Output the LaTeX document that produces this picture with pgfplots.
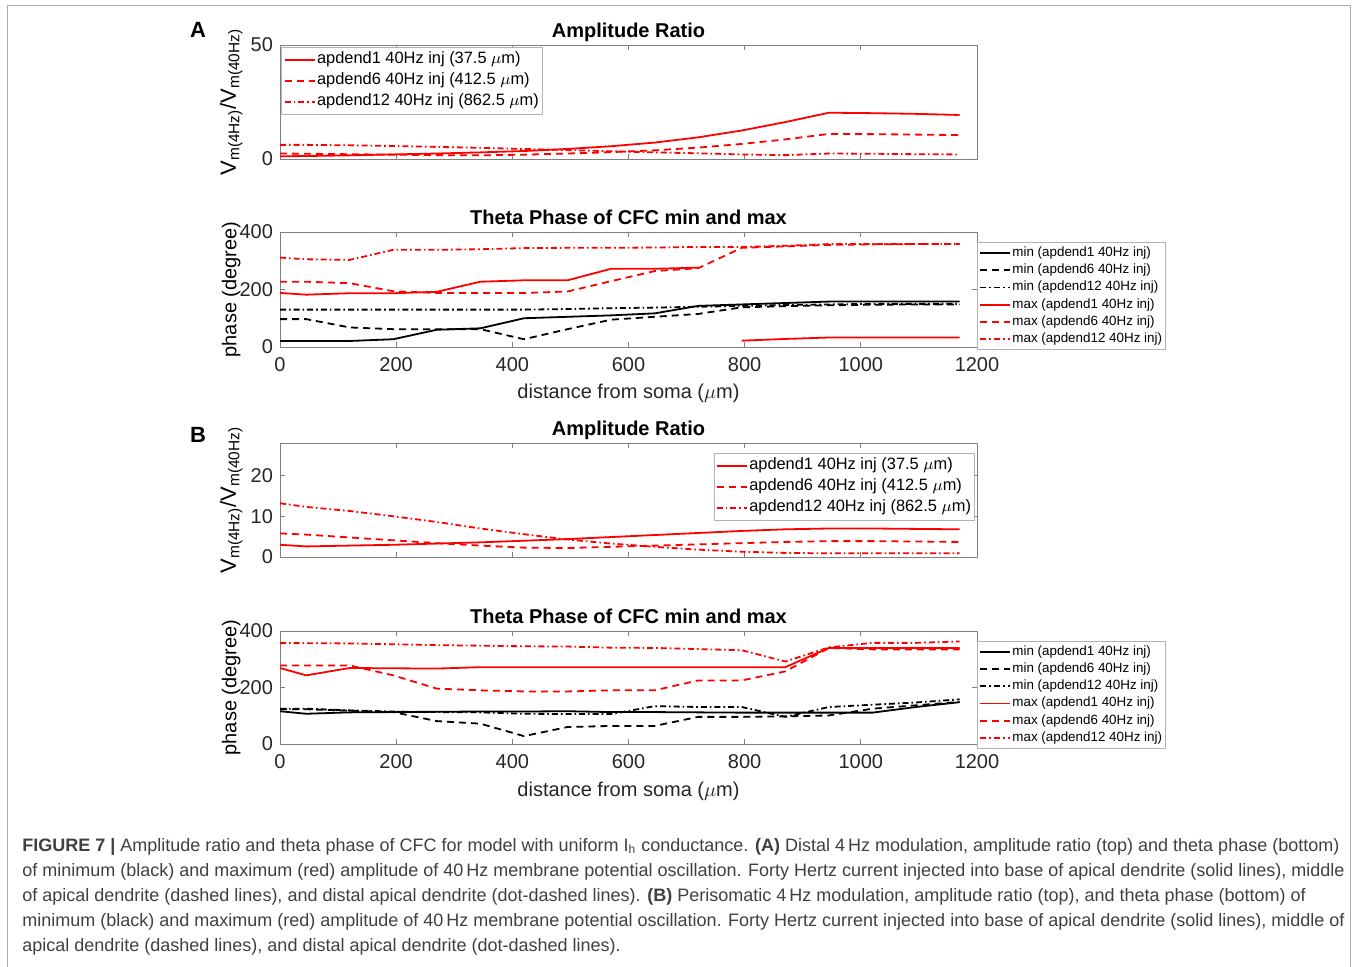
\documentclass[border=0pt]{standalone}
\usepackage{pgfplots}
\pgfplotsset{compat=1.18}
\usepackage{fontspec}
\setmainfont{Liberation Sans}

\definecolor{axgray}{gray}{0.5}
\definecolor{txt}{gray}{0.15}
\definecolor{capgray}{gray}{0.25}

\pgfplotsset{
 myaxis/.style={
   scale only axis, width=348.5pt, xmin=0, xmax=1200,
   xtick={0,200,...,1200},
   axis line style={axgray, line width=0.4pt},
   every tick/.style={axgray, line width=0.4pt},
   major tick length=2.5pt,
   tick label style={font=\fontsize{10}{12}\selectfont, text=txt},
   xticklabel style={yshift=-1.8pt},
   /pgf/number format/assume math mode=true,
   /pgf/number format/1000 sep={},
   every axis title shift=0pt,
   title style={font=\bfseries\fontsize{10}{12}\selectfont, at={(0.5,1)}, anchor=base, yshift=3.6pt},
   label style={font=\fontsize{10}{12}\selectfont, text=txt},
   every axis y label/.style={at={(axis description cs:-0.07,0.5)}, rotate=90, anchor=center},
   legend cell align=left,
   unbounded coords=jump,
   legend image code/.code={\draw[##1] (0pt,0pt) -- (15pt,0pt);},
 },
 biglegend/.style={legend style={font=\fontsize{8.2}{9}\selectfont, draw=gray!60, fill=white, inner sep=1pt,
     nodes={inner sep=0.75pt, text height=6.5pt, text depth=2.5pt}, row sep=0pt}},
 smalllegend/.style={legend style={font=\fontsize{6.7}{7.5}\selectfont, draw=gray!60, fill=white, inner sep=1pt,
     nodes={inner sep=0.6pt, text height=5.4pt, text depth=2pt}, row sep=0pt, at={(1.0,0.913)}, anchor=north west}},
 s1/.style={red, solid, line width=0.9pt},
 s6/.style={red, line width=0.9pt, dash pattern=on 3.5pt off 2.5pt},
 s12/.style={red, line width=0.9pt, dash pattern=on 3pt off 1.5pt on 0.8pt off 1.5pt},
 k1/.style={black, solid, line width=0.9pt},
 k6/.style={black, line width=0.9pt, dash pattern=on 3.5pt off 2.5pt},
 k12/.style={black, line width=0.9pt, dash pattern=on 3pt off 1.5pt on 0.8pt off 1.5pt},
}

\begin{document}
\begin{tikzpicture}
\useasboundingbox (0,0) rectangle (678.5pt,483pt);
\draw[gray!65, line width=0.5pt] (3.5pt,-2pt) -- (3.5pt,480pt) -- (675pt,480pt) -- (675pt,-2pt);

\node[font=\bfseries\fontsize{11}{13}\selectfont, anchor=center] at (99pt,468pt) {A};
\node[font=\bfseries\fontsize{11}{13}\selectfont, anchor=center] at (99pt,265.5pt) {B};

% ---------------- A top ----------------
\begin{axis}[myaxis, biglegend, at={(140pt,403.5pt)}, anchor=south west, height=57pt,
  ymin=0, ymax=50, ytick={0,50}, xticklabels={},
  title={Amplitude Ratio},
  ylabel={V\textsubscript{m(4Hz)}/V\textsubscript{m(40Hz)}},
  ylabel style={font=\fontsize{11}{13}\selectfont},
  legend style={at={(0.002,0.985)}, anchor=north west}]
\addplot[s1] coordinates {(0,1.2)(45,1.3)(120,1.6)(195,2.0)(270,2.4)(345,2.9)(420,3.5)(495,4.4)(570,5.6)(645,7.2)(720,9.5)(795,12.5)(870,16.2)(945,20.3)(1020,20.1)(1095,19.8)(1170,19.3)};
\addplot[s6] coordinates {(0,2.4)(45,2.3)(120,2.1)(195,1.9)(270,1.7)(345,1.6)(420,1.9)(495,2.4)(570,3.0)(645,3.8)(720,5.0)(795,6.6)(870,8.6)(945,11.0)(1020,10.9)(1095,10.7)(1170,10.5)};
\addplot[s12] coordinates {(0,6.2)(45,6.2)(120,6.0)(195,5.7)(270,5.3)(345,4.9)(420,4.4)(495,3.9)(570,3.4)(645,2.9)(720,2.5)(795,2.0)(870,1.7)(945,2.4)(1020,2.3)(1095,2.1)(1170,2.0)};
\legend{apdend1 40Hz inj (37.5 $\mu$m), apdend6 40Hz inj (412.5 $\mu$m), apdend12 40Hz inj (862.5 $\mu$m)}
\end{axis}

% ---------------- A bottom ----------------
\begin{axis}[myaxis, smalllegend, at={(140pt,309.5pt)}, anchor=south west, height=57.5pt,
  ymin=0, ymax=400, ytick={0,200,400},
  title={Theta Phase of CFC min and max},
  xlabel={distance from soma ($\mu$m)},
  xlabel style={at={(axis description cs:0.5,-0.40)}, anchor=center},
  ylabel={phase (degree)}]
\addplot[k1] coordinates {(0,21)(45,21)(120,21)(195,27)(270,60)(345,65)(420,100)(495,105)(570,110)(645,117)(720,143)(795,148)(870,153)(945,158)(1020,158)(1095,158)(1170,158)};
\addplot[k6] coordinates {(0,97)(45,97)(120,68)(195,62)(270,62)(345,62)(420,27)(495,62)(570,95)(645,105)(720,115)(795,138)(870,142)(945,145)(1020,147)(1095,148)(1170,148)};
\addplot[k12] coordinates {(0,130)(45,130)(120,130)(195,130)(270,130)(345,130)(420,130)(495,132)(570,135)(645,137)(720,140)(795,143)(870,146)(945,148)(1020,150)(1095,150)(1170,150)};
\addplot[s1] coordinates {(0,188)(45,182)(120,187)(195,187)(270,192)(345,227)(420,232)(495,232)(570,272)(645,272)(720,276)(757,nan)(795,22)(870,28)(945,33)(1020,33)(1095,33)(1170,33)};
\addplot[s6] coordinates {(0,227)(45,227)(120,222)(195,194)(270,188)(345,188)(420,188)(495,193)(570,229)(645,264)(720,274)(795,345)(870,350)(945,355)(1020,357)(1095,358)(1170,358)};
\addplot[s12] coordinates {(0,311)(45,305)(120,303)(195,338)(270,338)(345,340)(420,344)(495,345)(570,345)(645,346)(720,348)(795,348)(870,352)(945,358)(1020,358)(1095,358)(1170,358)};
\legend{min (apdend1 40Hz inj), min (apdend6 40Hz inj), min (apdend12 40Hz inj), max (apdend1 40Hz inj), max (apdend6 40Hz inj), max (apdend12 40Hz inj)}
\end{axis}

% ---------------- B top ----------------
\begin{axis}[myaxis, biglegend, at={(140pt,204.5pt)}, anchor=south west, height=57pt,
  ymin=0, ymax=28, ytick={0,10,20}, xticklabels={},
  title={Amplitude Ratio},
  ylabel={V\textsubscript{m(4Hz)}/V\textsubscript{m(40Hz)}},
  ylabel style={font=\fontsize{11}{13}\selectfont},
  legend style={at={(0.997,0.912)}, anchor=north east}]
\addplot[s1] coordinates {(0,3.0)(45,2.6)(120,2.8)(195,3.0)(270,3.3)(345,3.6)(420,4.0)(495,4.4)(570,4.9)(645,5.4)(720,5.9)(795,6.4)(870,6.8)(945,7.0)(1020,7.0)(1095,6.9)(1170,6.8)};
\addplot[s6] coordinates {(0,5.8)(45,5.5)(120,4.8)(195,4.1)(270,3.4)(345,2.8)(420,2.3)(495,2.2)(570,2.5)(645,2.8)(720,3.1)(795,3.4)(870,3.7)(945,3.9)(1020,3.9)(1095,3.8)(1170,3.7)};
\addplot[s12] coordinates {(0,13.2)(45,12.3)(120,11.3)(195,10.0)(270,8.6)(345,7.0)(420,5.6)(495,4.3)(570,3.3)(645,2.5)(720,1.8)(795,1.3)(870,1.0)(945,0.9)(1020,0.9)(1095,0.9)(1170,0.9)};
\legend{apdend1 40Hz inj (37.5 $\mu$m), apdend6 40Hz inj (412.5 $\mu$m), apdend12 40Hz inj (862.5 $\mu$m)}
\end{axis}

% ---------------- B bottom ----------------
\begin{axis}[myaxis, smalllegend, at={(140pt,111pt)}, anchor=south west, height=56.5pt,
  ymin=0, ymax=400, ytick={0,200,400},
  title={Theta Phase of CFC min and max},
  xlabel={distance from soma ($\mu$m)},
  xlabel style={at={(axis description cs:0.5,-0.415)}, anchor=center},
  ylabel={phase (degree)}]
\addplot[k1] coordinates {(0,116)(45,107)(120,112)(195,113)(270,114)(345,115)(420,115)(495,116)(570,113)(645,113)(720,112)(795,111)(870,111)(945,111)(1020,111)(1095,131)(1170,148)};
\addplot[k6] coordinates {(0,123)(45,123)(120,118)(195,113)(270,81)(345,72)(420,28)(495,60)(570,64)(645,64)(720,96)(795,96)(870,98)(945,101)(1020,125)(1095,137)(1170,149)};
\addplot[k12] coordinates {(0,125)(45,125)(120,119)(195,115)(270,113)(345,112)(420,107)(495,106)(570,106)(645,134)(720,131)(795,131)(870,96)(945,131)(1020,139)(1095,147)(1170,158)};
\addplot[s1] coordinates {(0,269)(45,243)(120,269)(195,268)(270,267)(345,272)(420,272)(495,272)(570,272)(645,272)(720,272)(795,272)(870,272)(945,340)(1020,340)(1095,340)(1170,340)};
\addplot[s6] coordinates {(0,278)(45,278)(120,278)(195,243)(270,196)(345,190)(420,186)(495,186)(570,190)(645,190)(720,225)(795,225)(870,257)(945,340)(1020,335)(1095,335)(1170,335)};
\addplot[s12] coordinates {(0,357)(45,357)(120,356)(195,353)(270,350)(345,348)(420,346)(495,345)(570,341)(645,340)(720,336)(795,332)(870,292)(945,342)(1020,358)(1095,358)(1170,363)};
\legend{min (apdend1 40Hz inj), min (apdend6 40Hz inj), min (apdend12 40Hz inj), max (apdend1 40Hz inj), max (apdend6 40Hz inj), max (apdend12 40Hz inj)}
\end{axis}

% ---------------- caption ----------------
\begin{scope}[every node/.style={anchor=base west, inner sep=0pt, font=\fontsize{9}{10}\selectfont, text=capgray}]
\node at (11pt,57.5pt) {\textbf{FIGURE 7 |} Amplitude ratio and theta phase of CFC for model with uniform I\textsubscript{h} conductance. \textbf{(A)} Distal 4\,Hz modulation, amplitude ratio (top) and theta phase (bottom)};
\node at (11pt,45pt) {of minimum (black) and maximum (red) amplitude of 40\,Hz membrane potential oscillation. Forty Hertz current injected into base of apical dendrite (solid lines), middle};
\node at (11pt,32.5pt) {of apical dendrite (dashed lines), and distal apical dendrite (dot-dashed lines). \textbf{(B)} Perisomatic 4\,Hz modulation, amplitude ratio (top), and theta phase (bottom) of};
\node at (11pt,20pt) {minimum (black) and maximum (red) amplitude of 40\,Hz membrane potential oscillation. Forty Hertz current injected into base of apical dendrite (solid lines), middle of};
\node at (11pt,7.5pt) {apical dendrite (dashed lines), and distal apical dendrite (dot-dashed lines).};
\end{scope}
\end{tikzpicture}
\end{document}
